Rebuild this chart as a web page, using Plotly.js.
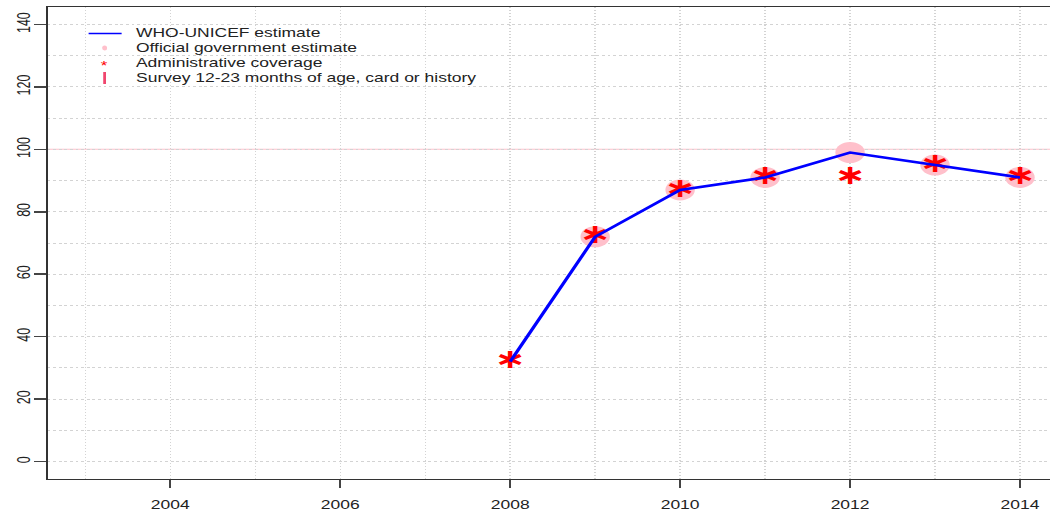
<!DOCTYPE html>
<html>
<head>
<meta charset="utf-8">
<script src="https://cdn.plot.ly/plotly-3.0.1.min.js"></script>
<style>
  html, body { margin: 0; padding: 0; background: #fff; overflow: hidden; }
  #wrap { width: 1050px; height: 513px; overflow: hidden; position: relative; }
  #chart { width: 750px; height: 513px; transform: scaleX(1.4); transform-origin: 0 0; position: absolute; left: 0; top: 0; }
</style>
</head>
<body>
<div id="wrap"><div id="chart"></div></div>
<script>
// ---- data ----
const whoYears = [2008, 2009, 2010, 2011, 2012, 2013, 2014];
const whoValues = [32, 72, 87, 91, 99, 95, 91];

const officialYears = [2009, 2010, 2011, 2012, 2013, 2014];
const officialValues = [72, 87, 91, 99, 95, 91];

const adminYears = [2008, 2009, 2010, 2011, 2012, 2013, 2014];
const adminValues = [32, 72, 87, 91, 91, 95, 91];

const legendLabels = [
  "WHO-UNICEF estimate",
  "Official government estimate",
  "Administrative coverage",
  "Survey 12-23 months of age, card or history"
];
const targetLine = 100;
const xTickVals = [2004, 2006, 2008, 2010, 2012, 2014];
const yTickVals = [0, 20, 40, 60, 80, 100, 120, 140];

// ---- geometry (image is stretched horizontally) ----
const S = 1.4;
const W = 750;
const ML = 48 / S, MR = 0, MT = 7, MB = 34;
const PW = W - ML - MR, PH = 513 - MT - MB;
const px = (rx) => (rx / S - ML) / PW;
const py = (ry) => (479 - ry) / PH;

const FONT = "Liberation Sans, Arial, Helvetica, sans-serif";

const traces = [
  {
    x: officialYears, y: officialValues, type: "scatter", mode: "markers",
    marker: { symbol: "circle", size: 21, color: "#FFC0CB" },
    hoverinfo: "x+y", showlegend: false
  },
  // administrative coverage drawn as a centred asterisk glyph
  {
    x: adminYears, y: adminValues, type: "scatter", mode: "text",
    text: adminValues.map(() => "\u2217"), textposition: "middle center",
    textfont: { family: "DejaVu Sans", size: 27, color: "red", weight: "bold" },
    hoverinfo: "x+y", showlegend: false
  },
  {
    x: whoYears, y: whoValues, type: "scatter", mode: "lines",
    line: { color: "blue", width: 2.5 },
    hoverinfo: "x+y", showlegend: false
  }
];

const gridColor = "#d3d3d3";

const layout = {
  width: W, height: 513,
  margin: { l: ML, r: MR, t: MT, b: MB, pad: 0 },
  paper_bgcolor: "#fff", plot_bgcolor: "#fff",
  font: { family: FONT, size: 12.5, color: "#222" },
  showlegend: false,
  xaxis: {
    range: [2002.556, 2014.353],
    tickmode: "array", tickvals: xTickVals, ticktext: xTickVals.map(String),
    ticks: "outside", ticklen: 8, tickwidth: 1.4, tickcolor: "#444",
    ticklabelstandoff: 6,
    showline: true, linecolor: "#333", linewidth: 1.3, mirror: true,
    showgrid: false, zeroline: false,
    minor: { dtick: 1, tick0: 2003, showgrid: true, gridcolor: gridColor, griddash: "1px,2px", gridwidth: 1, ticks: "" },
    tickfont: { family: FONT, size: 12.5, color: "#222" },
    fixedrange: true
  },
  yaxis: {
    range: [-5.6, 145.6],
    tickmode: "array", tickvals: yTickVals, ticktext: yTickVals.map(String),
    ticks: "outside", ticklen: 8, tickwidth: 1.5, tickcolor: "#444",
    tickangle: -90, ticklabelstandoff: -2,
    showline: true, linecolor: "#333", linewidth: 1.4, mirror: true,
    showgrid: false, zeroline: false,
    minor: { dtick: 10, tick0: 0, showgrid: true, gridcolor: gridColor, griddash: "2px,2px", gridwidth: 1, ticks: "" },
    tickfont: { family: FONT, size: 12.5, color: "#222" },
    fixedrange: true
  },
  shapes: [
    { type: "line", xref: "paper", x0: 0, x1: 1, yref: "y", y0: targetLine, y1: targetLine,
      line: { color: "#FFC0CB", width: 1 }, layer: "below" },
    // legend symbols
    { type: "line", xref: "paper", yref: "paper", x0: px(89), x1: px(122), y0: py(33.5), y1: py(33.5),
      line: { color: "#0000ff", width: 1.3 } },
    { type: "circle", xref: "paper", yref: "paper", x0: px(102.5), x1: px(107.5), y0: py(45.5), y1: py(50.5),
      fillcolor: "#FFC0CB", line: { width: 0 } },
    { type: "line", xref: "paper", yref: "paper", x0: px(105), x1: px(105), y0: py(72), y1: py(84),
      line: { color: "#f0466e", width: 2 } }
  ],
  annotations: legendLabels.map((t, i) => ({
    text: t, xref: "paper", yref: "paper", x: px(133), y: py(33 + 15 * i),
    xanchor: "left", yanchor: "middle", showarrow: false,
    font: { family: FONT, size: 12.5, color: "#222" }
  })).concat([{
    text: "*", xref: "paper", yref: "paper", x: px(105), y: py(66),
    xanchor: "center", yanchor: "middle", showarrow: false,
    font: { family: FONT, size: 12, color: "red" }
  }])
};

Plotly.newPlot("chart", traces, layout, { displayModeBar: false, staticPlot: true });
</script>
</body>
</html>
